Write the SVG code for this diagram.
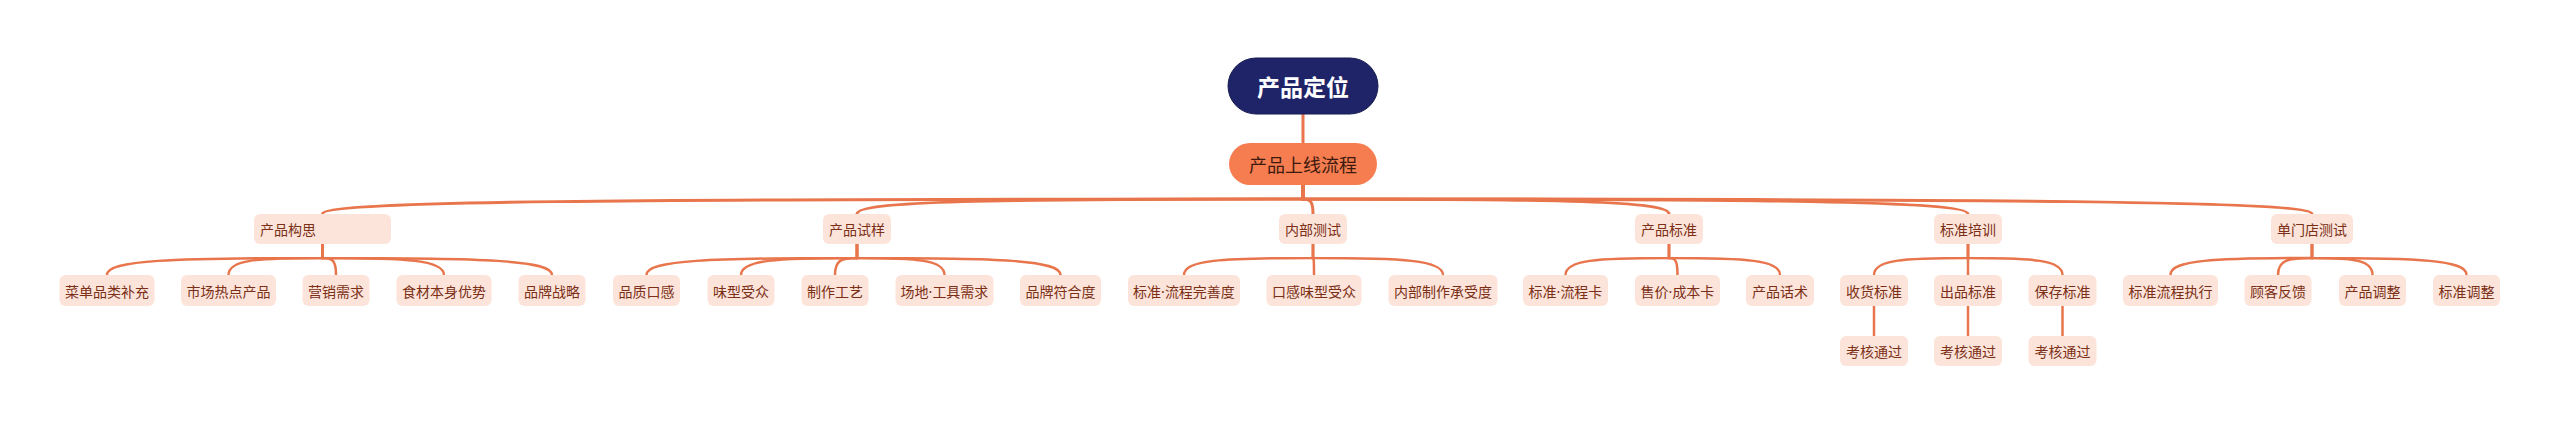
<svg xmlns="http://www.w3.org/2000/svg" width="2560" height="426" viewBox="0 0 2560 426">
<style>
.ln{fill:none;stroke:#e8754b;stroke-width:2.5;stroke-linecap:round}
.ln1{fill:none;stroke:#e8754b;stroke-width:3;stroke-linecap:round}
.bx{fill:#fde4da}
.t{font-family:"Noto Sans CJK SC","Noto Sans",sans-serif;font-size:14px;fill:#7a2f16;text-anchor:middle;dominant-baseline:central}
.d{font-family:"Noto Sans","Liberation Sans",sans-serif}
.t1{font-family:"Noto Sans CJK SC","Noto Sans",sans-serif;font-size:18px;fill:#3d1a0e;text-anchor:middle;dominant-baseline:central}
.t0{font-family:"Noto Sans CJK SC","Noto Sans",sans-serif;font-size:23px;font-weight:bold;fill:#ffffff;text-anchor:middle;dominant-baseline:central}
</style>
<rect width="2560" height="426" fill="#ffffff"/>
<g id="connectors">
<path class="ln1" d="M1303 114 V143"/>
<path class="ln1" d="M1303 185 V199 C616.6 199 322.5 201 322.5 214"/>
<path class="ln1" d="M1303 185 V199 C990.8 199 857 201 857 214"/>
<path class="ln1" d="M1303 185 V199 C1310 199 1313 201 1313 214"/>
<path class="ln1" d="M1303 185 V199 C1559.2 199 1669 201 1669 214"/>
<path class="ln1" d="M1303 185 V199 C1768.5 199 1968 201 1968 214"/>
<path class="ln1" d="M1303 185 V199 C2009.3 199 2312 201 2312 214"/>
<path class="ln" d="M322.5 244 V258 C171.7 258 107 260 107 275"/>
<path class="ln" d="M322.5 244 V258 C254.6 258 228.5 260 228.5 275"/>
<path class="ln" d="M322.5 244 V258 C332.3 258 336 260 336 275"/>
<path class="ln" d="M322.5 244 V258 C407.5 258 444 260 444 275"/>
<path class="ln" d="M322.5 244 V258 C483.2 258 552 260 552 275"/>
<path class="ln" d="M857 244 V258 C709.6 258 646.5 260 646.5 275"/>
<path class="ln" d="M857 244 V258 C775.8 258 741 260 741 275"/>
<path class="ln" d="M857 244 V258 C841.6 258 835 260 835 275"/>
<path class="ln" d="M857 244 V258 C918.2 258 944.5 260 944.5 275"/>
<path class="ln" d="M857 244 V258 C999.5 258 1060.5 260 1060.5 275"/>
<path class="ln" d="M1313 244 V258 C1220.7 258 1184 260 1184 275"/>
<path class="ln" d="M1313 244 V258 C1313.7 258 1314 260 1314 275"/>
<path class="ln" d="M1313 244 V258 C1403.2 258 1443 260 1443 275"/>
<path class="ln" d="M1669 244 V258 C1596 258 1565.5 260 1565.5 275"/>
<path class="ln" d="M1669 244 V258 C1675 258 1677.5 260 1677.5 275"/>
<path class="ln" d="M1669 244 V258 C1747 258 1780 260 1780 275"/>
<path class="ln" d="M1968 244 V258 C1902 258 1874 260 1874 275"/>
<path class="ln" d="M1968 244 V275"/>
<path class="ln" d="M1968 244 V258 C2034 258 2062.5 260 2062.5 275"/>
<path class="ln" d="M2312 244 V258 C2213 258 2170.5 260 2170.5 275"/>
<path class="ln" d="M2312 244 V258 C2288 258 2278 260 2278 275"/>
<path class="ln" d="M2312 244 V258 C2354 258 2372.5 260 2372.5 275"/>
<path class="ln" d="M2312 244 V258 C2420 258 2466.5 260 2466.5 275"/>
<path class="ln" d="M1874 306 V336"/>
<path class="ln" d="M1968 306 V336"/>
<path class="ln" d="M2062.5 306 V336"/>
</g>
<g id="root"><rect x="1228" y="58" width="150" height="56" rx="28" fill="#1f2468" stroke="#161b52" stroke-width="1"/><text class="t0" x="1303" y="86">产品定位</text></g>
<g id="n-launch"><rect x="1229" y="143" width="148" height="42" rx="21" fill="#f57d50"/><text class="t1" x="1303" y="164">产品上线流程</text></g>
<g id="n-concept"><rect class="bx" x="254" y="214" width="137" height="30" rx="6"/><text class="t" x="260" y="229" style="text-anchor:start">产品构思</text></g>
<g id="n-trial"><rect class="bx" x="823" y="214" width="68" height="30" rx="6"/><text class="t" x="857" y="229">产品试样</text></g>
<g id="n-internal"><rect class="bx" x="1279" y="214" width="68" height="30" rx="6"/><text class="t" x="1313" y="229">内部测试</text></g>
<g id="n-standard"><rect class="bx" x="1635" y="214" width="68" height="30" rx="6"/><text class="t" x="1669" y="229">产品标准</text></g>
<g id="n-training"><rect class="bx" x="1934" y="214" width="68" height="30" rx="6"/><text class="t" x="1968" y="229">标准培训</text></g>
<g id="n-store"><rect class="bx" x="2271" y="214" width="82" height="30" rx="6"/><text class="t" x="2312" y="229">单门店测试</text></g>
<g id="c1"><rect class="bx" x="59.5" y="275" width="95" height="31" rx="6"/><text class="t" x="107" y="290.5">菜单品类补充</text></g>
<g id="c2"><rect class="bx" x="181" y="275" width="95" height="31" rx="6"/><text class="t" x="228.5" y="290.5">市场热点产品</text></g>
<g id="c3"><rect class="bx" x="302.5" y="275" width="67" height="31" rx="6"/><text class="t" x="336" y="290.5">营销需求</text></g>
<g id="c4"><rect class="bx" x="396.5" y="275" width="95" height="31" rx="6"/><text class="t" x="444" y="290.5">食材本身优势</text></g>
<g id="c5"><rect class="bx" x="518.5" y="275" width="67" height="31" rx="6"/><text class="t" x="552" y="290.5">品牌战略</text></g>
<g id="c6"><rect class="bx" x="613" y="275" width="67" height="31" rx="6"/><text class="t" x="646.5" y="290.5">品质口感</text></g>
<g id="c7"><rect class="bx" x="707.5" y="275" width="67" height="31" rx="6"/><text class="t" x="741" y="290.5">味型受众</text></g>
<g id="c8"><rect class="bx" x="801.5" y="275" width="67" height="31" rx="6"/><text class="t" x="835" y="290.5">制作工艺</text></g>
<g id="c9"><rect class="bx" x="895.5" y="275" width="98" height="31" rx="6"/><text class="t" x="944.5" y="290.5">场地<tspan class="d">·</tspan>工具需求</text></g>
<g id="c10"><rect class="bx" x="1020" y="275" width="81" height="31" rx="6"/><text class="t" x="1060.5" y="290.5">品牌符合度</text></g>
<g id="c11"><rect class="bx" x="1128" y="275" width="112" height="31" rx="6"/><text class="t" x="1184" y="290.5">标准<tspan class="d">·</tspan>流程完善度</text></g>
<g id="c12"><rect class="bx" x="1266.5" y="275" width="95" height="31" rx="6"/><text class="t" x="1314" y="290.5">口感味型受众</text></g>
<g id="c13"><rect class="bx" x="1388.5" y="275" width="109" height="31" rx="6"/><text class="t" x="1443" y="290.5">内部制作承受度</text></g>
<g id="c14"><rect class="bx" x="1523" y="275" width="85" height="31" rx="6"/><text class="t" x="1565.5" y="290.5">标准<tspan class="d">·</tspan>流程卡</text></g>
<g id="c15"><rect class="bx" x="1635" y="275" width="85" height="31" rx="6"/><text class="t" x="1677.5" y="290.5">售价<tspan class="d">·</tspan>成本卡</text></g>
<g id="c16"><rect class="bx" x="1746" y="275" width="68" height="31" rx="6"/><text class="t" x="1780" y="290.5">产品话术</text></g>
<g id="c17"><rect class="bx" x="1840" y="275" width="68" height="31" rx="6"/><text class="t" x="1874" y="290.5">收货标准</text></g>
<g id="c18"><rect class="bx" x="1934" y="275" width="68" height="31" rx="6"/><text class="t" x="1968" y="290.5">出品标准</text></g>
<g id="c19"><rect class="bx" x="2028.5" y="275" width="68" height="31" rx="6"/><text class="t" x="2062.5" y="290.5">保存标准</text></g>
<g id="c20"><rect class="bx" x="2123" y="275" width="95" height="31" rx="6"/><text class="t" x="2170.5" y="290.5">标准流程执行</text></g>
<g id="c21"><rect class="bx" x="2244.5" y="275" width="67" height="31" rx="6"/><text class="t" x="2278" y="290.5">顾客反馈</text></g>
<g id="c22"><rect class="bx" x="2339" y="275" width="67" height="31" rx="6"/><text class="t" x="2372.5" y="290.5">产品调整</text></g>
<g id="c23"><rect class="bx" x="2433" y="275" width="67" height="31" rx="6"/><text class="t" x="2466.5" y="290.5">标准调整</text></g>
<g id="d1"><rect class="bx" x="1840" y="336" width="68" height="30" rx="6"/><text class="t" x="1874" y="351">考核通过</text></g>
<g id="d2"><rect class="bx" x="1934" y="336" width="68" height="30" rx="6"/><text class="t" x="1968" y="351">考核通过</text></g>
<g id="d3"><rect class="bx" x="2028.5" y="336" width="68" height="30" rx="6"/><text class="t" x="2062.5" y="351">考核通过</text></g>
</svg>
